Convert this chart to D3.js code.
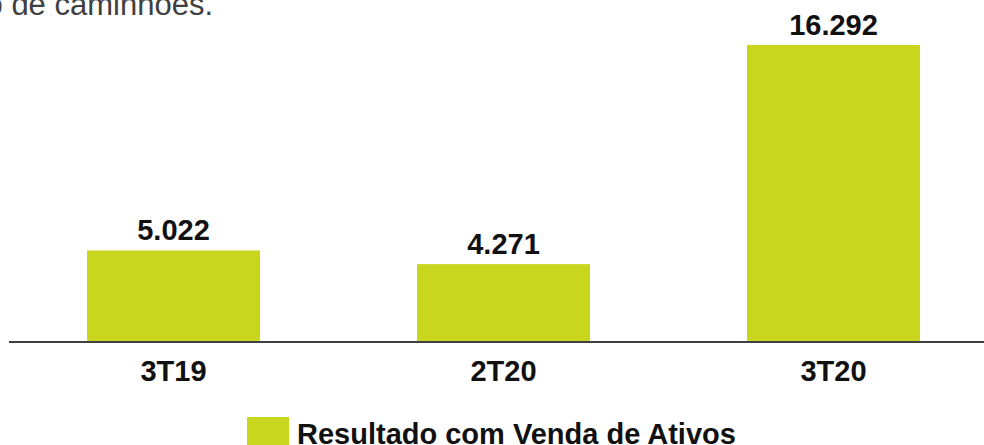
<!DOCTYPE html>
<html>
<head>
<meta charset="utf-8">
<script src="https://cdn.jsdelivr.net/npm/d3@7"></script>
<style>
  html, body { margin: 0; padding: 0; background: #fff; overflow: hidden; }
  svg { display: block; font-family: "Liberation Sans", Arial, sans-serif; }
</style>
</head>
<body>
<div id="chart"></div>
<script>
// data
const categories = ["3T19", "2T20", "3T20"];
const values = [5.022, 4.271, 16.292];
const valueLabels = ["5.022", "4.271", "16.292"];
const seriesName = "Resultado com Venda de Ativos";
const topText = "ção de caminhões.";

document.addEventListener('DOMContentLoaded', () => {
  Chart();
});

function Chart() {
  const width = 984, height = 445;
  const base = 342;
  const barColor = "#c8d61e";
  const labelSize = "29px";

  const svg = d3.select("#chart").append("svg")
    .attr("width", width)
    .attr("height", height);

  const x = d3.scaleBand()
    .domain(categories)
    .range([9, 998])
    .paddingInner(0.4758)
    .paddingOuter(0.2364);

  const y = d3.scaleLinear()
    .domain([0, d3.max(values)])
    .range([base, 45]);

  const data = categories.map((c, i) => ({ cat: c, v: values[i], label: valueLabels[i] }));

  // clipped paragraph text at the top (cut off in the original too)
  svg.append("text")
    .attr("x", 213)
    .attr("y", 15)
    .attr("text-anchor", "end")
    .attr("fill", "#404040")
    .style("font-size", "31px")
    .text(topText);

  svg.append("g")
    .selectAll("rect")
    .data(data)
    .join("rect")
    .attr("x", d => x(d.cat))
    .attr("y", d => y(d.v))
    .attr("width", x.bandwidth())
    .attr("height", d => base - 1 - y(d.v))
    .attr("fill", barColor);

  svg.append("g")
    .selectAll("text")
    .data(data)
    .join("text")
    .attr("x", d => x(d.cat) + x.bandwidth() / 2)
    .attr("y", d => y(d.v) - 10)
    .attr("text-anchor", "middle")
    .attr("fill", "#111")
    .style("font-size", labelSize)
    .style("font-weight", "bold")
    .text(d => d.label);

  // baseline axis
  const xAxis = g => g
    .attr("transform", `translate(0,${base})`)
    .call(d3.axisBottom(x).tickSize(0).tickPadding(0))
    .call(g => g.select(".domain")
      .attr("d", `M9,0H${width}`)
      .attr("stroke", "#404040")
      .attr("stroke-width", 2))
    .call(g => g.selectAll(".tick text")
      .attr("y", 39)
      .attr("dy", null)
      .attr("fill", "#111")
      .style("font-family", "\"Liberation Sans\", Arial, sans-serif")
      .style("font-size", labelSize)
      .style("font-weight", "bold"));

  svg.append("g").call(xAxis);

  // legend (cut off at the bottom edge, as in the original)
  const legend = svg.append("g").attr("transform", "translate(247,417)");
  legend.append("rect")
    .attr("width", 42)
    .attr("height", 42)
    .attr("fill", barColor);
  legend.append("text")
    .attr("x", 50)
    .attr("y", 27)
    .attr("fill", "#111")
    .style("font-size", labelSize)
    .style("font-weight", "bold")
    .text(seriesName);
}
</script>
</body>
</html>
